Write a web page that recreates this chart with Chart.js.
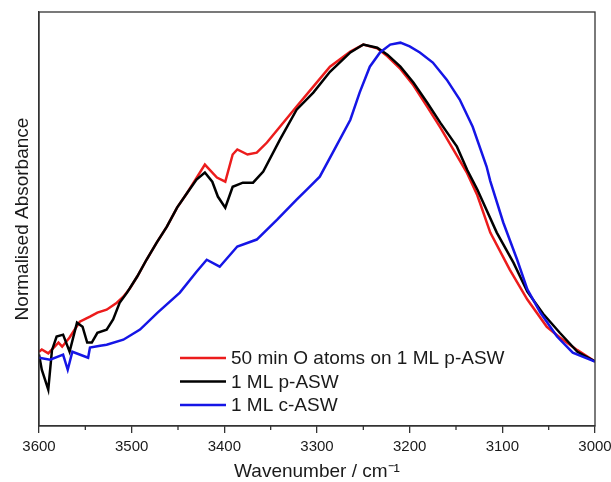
<!DOCTYPE html>
<html>
<head>
<meta charset="utf-8">
<script src="https://cdn.jsdelivr.net/npm/chart.js@4"></script>
<style>
  body { margin: 0; background: #fff; }
</style>
</head>
<body>
<canvas id="chart" width="611" height="482"></canvas>
<script>
// series (wavenumber in cm-1, normalised absorbance)
const redWn = [3600,3597,3590,3579,3575,3567,3556,3545,3537,3527,3516,3509,3502,3494,3484,3473,3462,3451,3440,3430,3421,3408,3399,3391,3386,3375,3365,3354,3340,3322,3304,3286,3264,3250,3235,3224,3210,3196,3181,3167,3153,3138,3127,3113,3092,3073,3052,3038,3019,3000];
const redAbs = [0.025,0.032,0.020,0.054,0.041,0.070,0.120,0.136,0.149,0.158,0.180,0.199,0.225,0.263,0.316,0.370,0.421,0.481,0.528,0.575,0.617,0.576,0.563,0.649,0.665,0.649,0.655,0.687,0.737,0.801,0.864,0.927,0.975,0.997,0.985,0.960,0.920,0.868,0.800,0.735,0.665,0.590,0.520,0.402,0.285,0.190,0.104,0.070,0.030,-0.006];

const blackWn = [3600,3597,3590,3586,3581,3574,3567,3559,3553,3548,3543,3537,3527,3520,3513,3505,3494,3484,3473,3462,3451,3440,3430,3421,3413,3407,3399,3391,3380,3369,3358,3340,3322,3304,3286,3264,3250,3235,3224,3210,3196,3181,3167,3149,3138,3127,3106,3088,3073,3056,3038,3019,3000];
const blackAbs = [0.016,-0.032,-0.095,0.030,0.073,0.079,0.025,0.117,0.104,0.054,0.054,0.085,0.095,0.127,0.180,0.212,0.263,0.316,0.370,0.421,0.481,0.528,0.570,0.592,0.563,0.516,0.481,0.547,0.560,0.560,0.595,0.696,0.791,0.845,0.911,0.972,0.997,0.987,0.965,0.927,0.877,0.813,0.750,0.674,0.601,0.538,0.402,0.307,0.215,0.145,0.085,0.025,-0.006];

const blueWn = [3600,3588,3574,3569,3564,3547,3545,3534,3527,3509,3491,3472,3448,3430,3419,3405,3386,3365,3343,3322,3311,3297,3283,3264,3254,3243,3232,3221,3210,3200,3189,3175,3160,3146,3132,3117,3113,3099,3084,3073,3059,3041,3024,3000];
const blueAbs = [0.006,0.0,0.016,-0.032,0.025,0.006,0.038,0.044,0.047,0.063,0.095,0.149,0.212,0.278,0.316,0.294,0.358,0.380,0.443,0.506,0.538,0.579,0.655,0.759,0.845,0.927,0.972,0.997,1.003,0.991,0.972,0.940,0.886,0.823,0.737,0.611,0.565,0.434,0.316,0.222,0.149,0.073,0.022,-0.006];

const seriesLabels = ["50 min O atoms on 1 ML p-ASW", "1 ML p-ASW", "1 ML c-ASW"];
const seriesColors = ["#ec1c1c", "#000000", "#1515e6"];

const xTitle = "Wavenumber / cm\u207B\u00B9";
const yTitle = "Normalised Absorbance";

Chart.defaults.font.family = "'Liberation Sans', Arial, sans-serif";
Chart.defaults.color = "#1a1a1a";

const toPoints = (xs, ys) => xs.map((x, i) => ({ x: x, y: ys[i] }));

// box round the plot + short minor ticks between the labelled ones
const framePlugin = {
  id: "frame",
  afterDraw(chart) {
    const { ctx, chartArea: a } = chart;
    const xs = chart.scales.x;
    ctx.save();
    ctx.strokeStyle = "#333";
    ctx.lineWidth = 1.3;
    ctx.strokeRect(a.left, a.top, a.right - a.left, a.bottom - a.top);
    const t = xs.ticks.map(k => k.value);
    ctx.beginPath();
    for (let i = 0; i < t.length - 1; i++) {
      const px = xs.getPixelForValue((t[i] + t[i + 1]) / 2);
      ctx.moveTo(px, a.bottom);
      ctx.lineTo(px, a.bottom + 4);
    }
    ctx.stroke();
    ctx.restore();
  }
};

// legend drawn inside the plot, lower middle
const insideLegend = {
  id: "insideLegend",
  afterDatasetsDraw(chart) {
    const { ctx } = chart;
    ctx.save();
    ctx.font = "19px 'Liberation Sans', Arial, sans-serif";
    ctx.textBaseline = "middle";
    chart.data.datasets.forEach((ds, i) => {
      const y = 358 + i * 23.5;
      ctx.strokeStyle = ds.borderColor;
      ctx.lineWidth = 2.5;
      ctx.beginPath();
      ctx.moveTo(180, y);
      ctx.lineTo(226, y);
      ctx.stroke();
      ctx.fillStyle = "#1a1a1a";
      ctx.fillText(ds.label, 231, y + 1);
    });
    ctx.restore();
  }
};

const ctx = document.getElementById("chart").getContext("2d");
new Chart(ctx, {
  type: "line",
  data: {
    datasets: [
      { label: seriesLabels[0], data: toPoints(redWn, redAbs), borderColor: seriesColors[0], order: 3 },
      { label: seriesLabels[1], data: toPoints(blackWn, blackAbs), borderColor: seriesColors[1], order: 2 },
      { label: seriesLabels[2], data: toPoints(blueWn, blueAbs), borderColor: seriesColors[2], order: 1 }
    ]
  },
  options: {
    responsive: false,
    animation: false,
    devicePixelRatio: 1,
    layout: { padding: { top: 12, right: 16, left: 0, bottom: 0 } },
    elements: {
      point: { radius: 0 },
      line: { borderWidth: 2.5, tension: 0 }
    },
    plugins: {
      legend: { display: false },
      tooltip: { enabled: false }
    },
    scales: {
      x: {
        type: "linear",
        reverse: true,
        min: 3000,
        max: 3600,
        ticks: { stepSize: 100, font: { size: 15 }, padding: 5, maxRotation: 0, callback: v => String(v) },
        grid: { drawOnChartArea: false, tickLength: 7, color: "#333", lineWidth: 1.3 },
        border: { color: "#333", width: 1.3 },
        title: { display: true, text: xTitle, font: { size: 19, lineHeight: 1 }, padding: { top: 0, bottom: 1 } },
        afterFit(s) { s.height = 56; s.paddingLeft = 0; s.paddingRight = 0; }
      },
      y: {
        min: -0.21,
        max: 1.10,
        ticks: { display: false },
        grid: { display: false, drawTicks: false },
        border: { color: "#333", width: 1.3 },
        title: { display: true, text: yTitle, font: { size: 19, lineHeight: 1 }, padding: { top: 13, bottom: 0 } },
        afterFit(s) { s.width = 39; }
      }
    }
  },
  plugins: [framePlugin, insideLegend]
});
</script>
</body>
</html>
